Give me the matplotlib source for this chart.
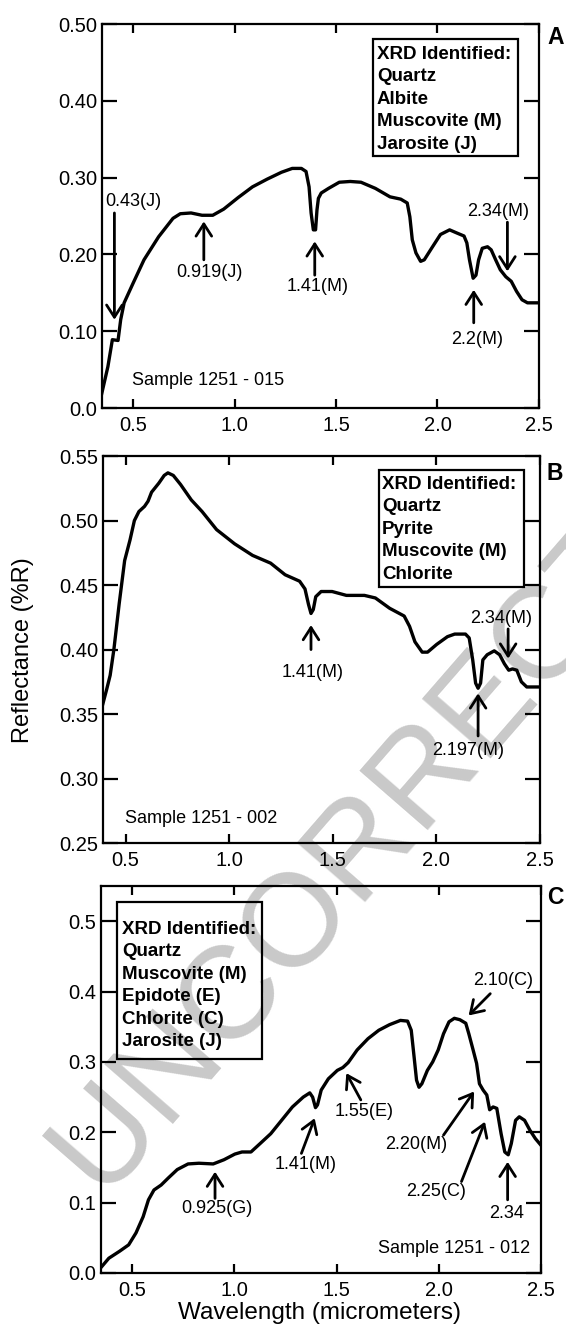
import matplotlib
matplotlib.use("Agg")
import matplotlib.pyplot as plt
from matplotlib.patches import Rectangle

plt.rcParams['font.family'] = ['Liberation Sans', 'DejaVu Sans']

# ---- Panel A : Sample 1251 - 015 ----
wl_a = [0.343, 0.375, 0.397, 0.425, 0.438, 0.455, 0.500, 0.553, 0.625, 0.696,
        0.732, 0.785, 0.839, 0.892, 0.946, 1.017, 1.088, 1.160, 1.231, 1.284,
        1.329, 1.352, 1.367, 1.377, 1.388, 1.399, 1.406, 1.413, 1.427, 1.463,
        1.516, 1.570, 1.623, 1.694, 1.766, 1.819, 1.851, 1.864, 1.876, 1.894,
        1.917, 1.935, 1.971, 2.015, 2.060, 2.095, 2.131, 2.145, 2.158, 2.176,
        2.190, 2.203, 2.221, 2.247, 2.265, 2.287, 2.310, 2.337, 2.364, 2.390,
        2.417, 2.444, 2.497]
refl_a = [0.017, 0.054, 0.089, 0.088, 0.115, 0.137, 0.163, 0.193, 0.223, 0.247,
          0.253, 0.254, 0.251, 0.251, 0.259, 0.274, 0.288, 0.298, 0.307, 0.312,
          0.312, 0.308, 0.288, 0.254, 0.232, 0.232, 0.258, 0.273, 0.280, 0.286,
          0.294, 0.295, 0.294, 0.286, 0.275, 0.272, 0.267, 0.249, 0.219, 0.202,
          0.191, 0.193, 0.208, 0.226, 0.232, 0.228, 0.224, 0.215, 0.193, 0.169,
          0.173, 0.193, 0.208, 0.210, 0.206, 0.193, 0.180, 0.171, 0.165, 0.152,
          0.141, 0.137, 0.137]

# ---- Panel B : Sample 1251 - 002 ----
wl_b = [0.390, 0.408, 0.425, 0.443, 0.469, 0.495, 0.521, 0.542, 0.564, 0.591,
        0.608, 0.625, 0.660, 0.686, 0.704, 0.730, 0.765, 0.817, 0.869, 0.939,
        1.026, 1.113, 1.200, 1.270, 1.340, 1.366, 1.383, 1.395, 1.406, 1.418,
        1.444, 1.497, 1.566, 1.653, 1.706, 1.775, 1.845, 1.871, 1.897, 1.932,
        1.958, 2.002, 2.054, 2.089, 2.141, 2.159, 2.176, 2.190, 2.202, 2.214,
        2.225, 2.246, 2.280, 2.306, 2.329, 2.350, 2.368, 2.389, 2.411, 2.437,
        2.498]
refl_b = [0.358, 0.369, 0.380, 0.400, 0.436, 0.469, 0.485, 0.500, 0.507, 0.511,
          0.515, 0.522, 0.529, 0.535, 0.537, 0.535, 0.528, 0.516, 0.507, 0.493,
          0.482, 0.473, 0.467, 0.458, 0.453, 0.447, 0.435, 0.428, 0.431, 0.441,
          0.445, 0.445, 0.442, 0.442, 0.440, 0.432, 0.426, 0.418, 0.406, 0.398,
          0.398, 0.404, 0.410, 0.412, 0.412, 0.409, 0.392, 0.374, 0.370, 0.374,
          0.392, 0.396, 0.399, 0.396, 0.389, 0.384, 0.385, 0.384, 0.375, 0.371,
          0.371]

# ---- Panel C : Sample 1251 - 012 ----
wl_c = [0.350, 0.385, 0.438, 0.482, 0.518, 0.553, 0.579, 0.606, 0.641, 0.676,
        0.720, 0.773, 0.826, 0.896, 0.949, 1.002, 1.037, 1.081, 1.126, 1.178,
        1.231, 1.284, 1.337, 1.369, 1.383, 1.397, 1.407, 1.425, 1.460, 1.504,
        1.531, 1.557, 1.601, 1.654, 1.707, 1.760, 1.813, 1.848, 1.866, 1.880,
        1.892, 1.904, 1.918, 1.945, 1.971, 1.998, 2.024, 2.051, 2.077, 2.104,
        2.133, 2.148, 2.169, 2.186, 2.200, 2.218, 2.236, 2.250, 2.267, 2.285,
        2.306, 2.324, 2.341, 2.356, 2.377, 2.395, 2.421, 2.447, 2.474, 2.500]
refl_c = [0.009, 0.021, 0.031, 0.040, 0.057, 0.080, 0.104, 0.118, 0.125, 0.135,
          0.147, 0.155, 0.156, 0.155, 0.161, 0.169, 0.172, 0.172, 0.184, 0.198,
          0.217, 0.236, 0.250, 0.256, 0.250, 0.235, 0.239, 0.260, 0.276, 0.288,
          0.292, 0.299, 0.317, 0.333, 0.345, 0.353, 0.359, 0.358, 0.345, 0.307,
          0.274, 0.264, 0.269, 0.288, 0.300, 0.317, 0.340, 0.357, 0.362, 0.360,
          0.355, 0.340, 0.317, 0.298, 0.269, 0.260, 0.253, 0.232, 0.236, 0.234,
          0.198, 0.172, 0.168, 0.184, 0.217, 0.222, 0.217, 0.203, 0.191, 0.182]

# absorption feature labels: (text, arrow tail, arrow head, label position)
feat_a = [("0.43(J)", (0.407, 0.254), (0.407, 0.115), (0.50, 0.269)),
          ("0.919(J)", (0.848, 0.193), (0.848, 0.243), (0.878, 0.176)),
          ("1.41(M)", (1.395, 0.173), (1.395, 0.217), (1.409, 0.158)),
          ("2.2(M)", (2.179, 0.111), (2.179, 0.154), (2.197, 0.089)),
          ("2.34(M)", (2.345, 0.242), (2.345, 0.178), (2.300, 0.256))]
feat_b = [("1.41(M)", (1.395, 0.400), (1.395, 0.419), (1.401, 0.382)),
          ("2.197(M)", (2.202, 0.333), (2.202, 0.366), (2.155, 0.322)),
          ("2.34(M)", (2.347, 0.416), (2.347, 0.393), (2.315, 0.424))]
feat_c = [("0.925(G)", (0.905, 0.106), (0.905, 0.144), (0.914, 0.092)),
          ("1.41(M)", (1.328, 0.170), (1.393, 0.220), (1.351, 0.154)),
          ("1.55(E)", (1.619, 0.246), (1.548, 0.284), (1.637, 0.229)),
          ("2.20(M)", (2.024, 0.196), (2.174, 0.258), (1.892, 0.182)),
          ("2.25(C)", (2.112, 0.130), (2.227, 0.215), (1.989, 0.116)),
          ("2.34", (2.338, 0.104), (2.338, 0.158), (2.333, 0.085)),
          ("2.10(C)", (2.253, 0.397), (2.147, 0.366), (2.315, 0.416))]

xrd_a = "XRD Identified:\nQuartz\nAlbite\nMuscovite (M)\nJarosite (J)"
xrd_b = "XRD Identified:\nQuartz\nPyrite\nMuscovite (M)\nChlorite"
xrd_c = "XRD Identified:\nQuartz\nMuscovite (M)\nEpidote (E)\nChlorite (C)\nJarosite (J)"

xticks = [0.5, 1.0, 1.5, 2.0, 2.5]
yticks_a = [0.0, 0.1, 0.2, 0.3, 0.4, 0.5]
ylabels_a = ["0.0", "0.10", "0.20", "0.30", "0.40", "0.50"]
yticks_b = [0.25, 0.30, 0.35, 0.40, 0.45, 0.50, 0.55]
ylabels_b = ["0.25", "0.30", "0.35", "0.40", "0.45", "0.50", "0.55"]
yticks_c = [0.0, 0.1, 0.2, 0.3, 0.4, 0.5]
ylabels_c = ["0.0", "0.1", "0.2", "0.3", "0.4", "0.5"]

W, H = 566, 1327
fig = plt.figure(figsize=(W / 100, H / 100), dpi=100)


def px(x, y):
    # pixel position (from top-left) -> figure fraction
    return x / W, 1 - y / H


# grey watermark behind the panels
fig.text(*px(412, 785), "UNCORRECTED", rotation=49, fontsize=95, color="#c9c9c9",
         ha="center", va="center", rotation_mode="anchor", zorder=-1)


def panel(rect, wl, refl, xlim, ylim, yt, ylab, feats, sample, sample_pos, sample_ha):
    ax = fig.add_axes(rect)
    ax.set_facecolor("none")
    ax.plot(wl, refl, color="black", lw=2.4, solid_joinstyle="round")
    ax.set_xlim(*xlim)
    ax.set_ylim(*ylim)
    ax.set_xticks(xticks)
    ax.set_xticklabels([f"{t:.1f}" for t in xticks])
    ax.set_yticks(yt)
    ax.set_yticklabels(ylab)
    for s in ax.spines.values():
        s.set_linewidth(1.6)
    ax.tick_params(axis="x", direction="in", top=True, length=6.5, width=1.6,
                   labelsize=14.5, pad=6)
    ax.tick_params(axis="y", direction="in", right=True, length=11, width=1.6,
                   labelsize=14.5, pad=3.5)
    for lab, tail, head, tpos in feats:
        ax.annotate("", xy=head, xytext=tail,
                    arrowprops=dict(arrowstyle="->,head_length=0.7,head_width=0.45",
                                    lw=2.0, color="black", shrinkA=0, shrinkB=0,
                                    mutation_scale=12.5))
        ax.text(tpos[0], tpos[1], lab, fontsize=13, ha="center", va="center")
    ax.text(sample_pos[0], sample_pos[1], sample, fontsize=13, ha=sample_ha, va="center")
    return ax


def xrd_box(text, box, text_xy):
    # box = (left, top, right, bottom) in pixels
    l, t, r, b = box
    x0, y0 = px(l, b)
    x1, y1 = px(r, t)
    fig.add_artist(Rectangle((x0, y0), x1 - x0, y1 - y0, transform=fig.transFigure,
                             fill=False, ec="black", lw=1.6))
    fig.text(*px(*text_xy), text, fontsize=13.5, fontweight="bold",
             ha="left", va="top", linespacing=1.42)


ax_a = panel([0.1799, 0.6925, 0.7721, 0.2894], wl_a, refl_a, (0.345, 2.5), (0.0, 0.5),
             yticks_a, ylabels_a, feat_a, "Sample 1251 - 015", (0.493, 0.036), "left")
ax_b = panel([0.1818, 0.3647, 0.7719, 0.2916], wl_b, refl_b, (0.39, 2.5), (0.25, 0.55),
             yticks_b, ylabels_b, feat_b, "Sample 1251 - 002", (0.495, 0.269), "left")
ax_c = panel([0.1786, 0.0407, 0.7767, 0.2916], wl_c, refl_c, (0.347, 2.5), (0.0, 0.55),
             yticks_c, ylabels_c, feat_c, "Sample 1251 - 012", (2.447, 0.0355), "right")

xrd_box(xrd_a, (373, 39, 518, 156), (377, 46))
xrd_box(xrd_b, (379, 470, 524, 587), (382, 476))
xrd_box(xrd_c, (117, 902, 262, 1059), (122, 921))

for letter, y in (("A", 38), ("B", 474), ("C", 897)):
    fig.text(*px(547, y), letter, fontsize=16.5, fontweight="bold", ha="left", va="center")

fig.text(*px(23.5, 650), "Reflectance (%R)", fontsize=17, rotation=90,
         ha="center", va="center")
fig.text(*px(320, 1313), "Wavelength (micrometers)", fontsize=17.5,
         ha="center", va="center")

fig.savefig("out.png", dpi=100)
